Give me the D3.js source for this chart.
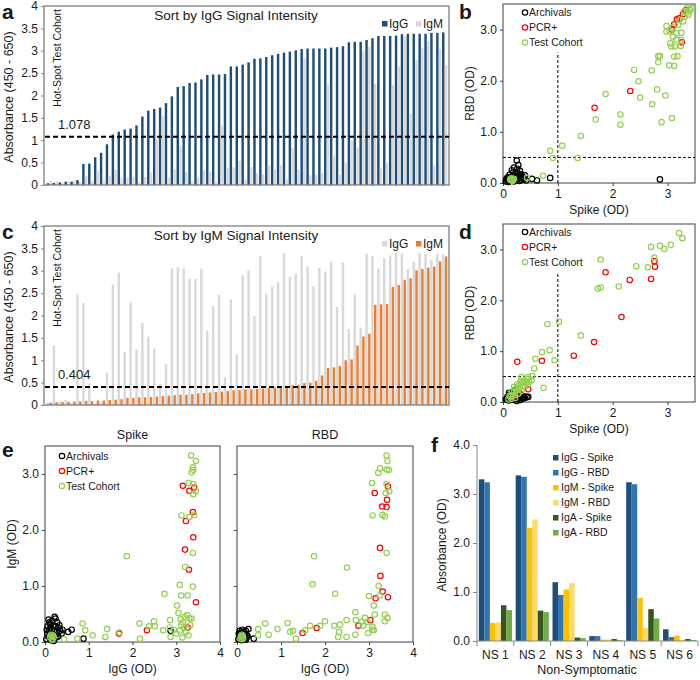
<!DOCTYPE html>
<html>
<head>
<meta charset="utf-8">
<script src="https://cdn.jsdelivr.net/npm/d3@7"></script>
<style>
  body { margin: 0; background: #fff; }
  text { font-family: Arial, "Liberation Sans", sans-serif; fill: #1a1a1a; }
</style>
</head>
<body>
<svg id="fig" width="700" height="680"></svg>
<script>
// ---- hot-spot test cohort (68 sera), listed by increasing IgM as in panel c
let cohortIgG = [0.06, 1.33, 0.075, 0.11, 0.05, 2.47, 2.28, 0.48, 0.04, 0.075,
  0.72, 2.69, 2.96, 1.19, 2.29, 1.24, 1.83, 1.53, 1.26, 0.47,
  0.91, 3.05, 3.08, 3.05, 2.83, 2.82, 3.05, 1.66, 2.21, 2.46,
  0.62, 2.36, 1.13, 2.90, 3.01, 1.98, 3.33, 2.48, 2.65, 2.74,
  3.40, 2.86, 2.93, 3.33, 3.10, 2.65, 3.07, 2.98, 3.20, 2.19,
  3.19, 1.70, 2.47, 1.73, 3.38, 3.33, 3.05, 3.28, 3.34, 3.41,
  3.38, 3.04, 3.20, 3.40, 3.38, 3.24, 3.38, 3.37];
let cohortIgM = [0.05, 0.06, 0.07, 0.07, 0.08, 0.08, 0.09, 0.09, 0.10, 0.10,
  0.11, 0.12, 0.13, 0.16, 0.16, 0.17, 0.17, 0.18, 0.19, 0.20,
  0.21, 0.22, 0.23, 0.23, 0.24, 0.26, 0.27, 0.28, 0.29, 0.30,
  0.31, 0.33, 0.34, 0.35, 0.35, 0.36, 0.37, 0.38, 0.39, 0.40,
  0.43, 0.44, 0.45, 0.49, 0.50, 0.54, 0.66, 0.83, 0.84, 0.87,
  1.00, 1.02, 1.33, 1.53, 1.59, 2.24, 2.25, 2.26, 2.64, 2.68,
  2.79, 2.83, 3.01, 3.04, 3.07, 3.09, 3.21, 3.32];
let cutoffIgG = 1.078;
let cutoffIgM = 0.404;
let barTicks = [0, 0.5, 1, 1.5, 2, 2.5, 3, 3.5, 4];

// ---- panel b: IgG, Spike vs RBD
let bArchivals = [[0.05,0.03],[0.08,0.06],[0.1,0.02],[0.12,0.08],[0.14,0.04],[0.15,0.12],[0.17,0.06],[0.18,0.15],
  [0.2,0.03],[0.21,0.09],[0.22,0.18],[0.23,0.05],[0.24,0.12],[0.25,0.44],[0.26,0.2],[0.27,0.08],[0.28,0.35],
  [0.29,0.14],[0.3,0.04],[0.31,0.24],[0.32,0.1],[0.33,0.17],[0.34,0.06],[0.36,0.12],[0.19,0.22],[0.16,0.25],
  [0.12,0.16],[0.09,0.11],[0.07,0.09],[0.38,0.08],[0.4,0.15],[0.42,0.05],[0.53,0.08],[0.62,0.05],[0.86,0.1],
  [2.86,0.07],[0.2,0.3],[0.26,0.28],[0.11,0.04],[0.06,0.07]];
let bPcr = [[1.67,1.47],[2.32,1.8],[3.26,2.75],[3.08,3.0],[3.12,3.1],[3.17,3.2],[3.21,3.22],[3.28,3.3],[3.33,3.38]];
let bCohort = [[0.14,0.06],[0.16,0.07],[0.18,0.05],[0.2,0.08],[0.15,0.09],[0.17,0.04],[0.19,0.07],[0.13,0.07],
  [0.44,0.1],[0.73,0.14],[0.86,0.63],[0.91,0.49],[1.08,0.73],[1.36,0.49],[1.42,0.92],[1.69,1.24],[1.87,1.74],
  [2.14,1.34],[2.14,1.14],[2.39,2.21],[2.47,1.99],[2.5,1.67],[2.71,2.2],[2.72,1.54],[2.81,1.83],[2.83,2.36],
  [2.83,2.48],[2.86,2.48],[2.89,1.19],[2.96,1.71],[3.03,2.3],[3.08,1.27],[3.12,2.29],[3.12,2.47],[3.18,2.48],
  [2.98,3.07],[2.98,2.96],[3.07,2.67],[3.13,2.67],[3.24,2.68],[3.1,2.86],[3.16,2.93],[3.25,2.94],[3.1,3.05],
  [3.19,3.09],[3.28,3.16],[3.31,3.25],[3.35,3.33],[3.41,3.38],[3.44,3.42],[3.38,3.29],[3.16,2.8],[3.25,2.8],
  [3.04,2.96],[3.22,3.19],[3.35,3.42],[3.05,2.73],[3.3,3.35],[3.4,3.4]];

// ---- panel d: IgM, Spike vs RBD
let dArchivals = [[0.05,0.05],[0.08,0.1],[0.1,0.03],[0.12,0.14],[0.14,0.07],[0.16,0.04],[0.18,0.12],[0.2,0.08],
  [0.21,0.23],[0.22,0.05],[0.24,0.1],[0.26,0.15],[0.28,0.06],[0.3,0.12],[0.32,0.04],[0.34,0.09],[0.36,0.07],
  [0.38,0.11],[0.4,0.08],[0.43,0.1],[0.46,0.1],[0.11,0.18],[0.07,0.06],[0.17,0.16],[0.25,0.02],[0.33,0.13]];
let dPcr = [[2.76,2.77],[2.77,2.66],[2.7,2.42],[2.31,2.4],[1.87,2.55],[2.16,1.67],[1.66,1.18],[1.29,0.91],
  [0.71,0.81],[0.26,0.79],[0.46,0.25],[0.2,0.12],[0.3,0.18]];
let dCohort = [[3.21,3.32],[3.27,3.22],[3.06,3.09],[2.94,3.01],[2.86,3.07],[2.7,3.05],[2.76,2.84],[2.64,2.65],
  [2.43,2.67],[2.11,2.27],[1.78,2.8],[1.73,2.23],[1.78,2.25],[1.42,1.31],[1.02,1.58],[0.81,1.53],[0.85,1.02],
  [0.71,0.98],[0.59,0.85],[0.94,0.82],[0.74,0.28],[0.57,0.66],[0.53,0.51],[0.46,0.49],[0.34,0.49],
  [0.1,0.05],[0.14,0.1],[0.16,0.2],[0.18,0.14],[0.2,0.3],[0.22,0.08],[0.24,0.22],[0.26,0.35],[0.28,0.16],
  [0.3,0.28],[0.32,0.4],[0.34,0.22],[0.36,0.32],[0.38,0.42],[0.4,0.3],[0.42,0.38],[0.44,0.45],[0.48,0.4],
  [0.52,0.43],[0.12,0.12],[0.2,0.2],[0.25,0.28],[0.3,0.35],[0.35,0.38],[0.15,0.06],[0.22,0.14],[0.28,0.24],[0.45,0.33]];

// ---- panel e: IgG vs IgM, Spike antigen
let eSpikeArchivals = [[0.03,0.05],[0.05,0.15],[0.06,0.28],[0.08,0.1],[0.1,0.2],[0.1,0.35],[0.12,0.05],[0.13,0.25],
  [0.15,0.15],[0.16,0.38],[0.18,0.08],[0.19,0.3],[0.2,0.2],[0.22,0.45],[0.23,0.12],[0.24,0.42],[0.25,0.28],
  [0.27,0.18],[0.28,0.35],[0.3,0.1],[0.31,0.25],[0.33,0.3],[0.35,0.2],[0.38,0.15],[0.4,0.22],[0.08,0.4],
  [0.14,0.03],[0.2,0.02],[0.04,0.22],[0.53,0.18],[0.61,0.22],[0.88,0.06],[2.87,0.2],[0.12,0.32],[0.26,0.08]];
let eSpikePcr = [[3.15,2.79],[3.3,2.7],[3.41,2.76],[3.38,2.32],[3.22,2.16],[3.39,1.87],[3.2,1.65],[3.29,1.29],
  [3.45,0.71],[1.69,0.15],[2.33,0.21],[3.26,0.26]];
let eSpikeCohort = [[3.34,3.33],[3.45,3.23],[3.38,3.12],[3.39,3.07],[3.35,3.03],[3.28,2.84],[3.39,2.82],[3.39,2.64],
  [3.45,2.69],[3.12,2.26],[3.3,2.23],[3.41,2.27],[3.38,1.59],[3.2,1.34],[1.87,1.53],[3.08,1.02],[3.38,0.99],
  [3.11,0.83],[3.26,0.83],[2.73,0.86],[3.02,0.65],[3.05,0.52],[3.1,0.4],[3.2,0.45],[3.25,0.48],[3.15,0.35],
  [3.3,0.42],[3.35,0.42],[3.12,0.3],[3.18,0.25],[3.22,0.18],[3.28,0.12],[3.08,0.2],[3.0,0.15],[3.14,0.08],
  [3.32,0.3],[2.95,0.22],[0.86,0.33],[0.92,0.21],[1.09,0.12],[1.42,0.23],[1.38,0.09],[1.7,0.17],[2.16,0.33],
  [2.17,0.06],[2.38,0.28],[2.49,0.37],[2.51,0.28],[2.7,0.21],[2.86,0.39],[2.85,0.26],[2.87,0.09],[0.44,0.05],
  [0.74,0.06],[0.12,0.08],[0.15,0.1],[0.17,0.06],[0.18,0.12],[0.2,0.09],[0.14,0.13],[0.16,0.04]];

// ---- panel e: IgG vs IgM, RBD antigen
let eRbdArchivals = [[0.03,0.05],[0.05,0.12],[0.06,0.2],[0.08,0.08],[0.1,0.15],[0.11,0.03],[0.12,0.22],[0.14,0.1],
  [0.15,0.18],[0.17,0.05],[0.18,0.13],[0.2,0.2],[0.22,0.08],[0.23,0.12],[0.26,0.23],[0.38,0.06],[0.09,0.17],
  [0.13,0.06],[0.07,0.1],[0.16,0.14],[0.2,0.04],[0.24,0.1],[0.04,0.15]];
let eRbdPcr = [[3.13,2.66],[3.43,2.78],[3.41,2.54],[3.3,2.42],[3.4,2.41],[3.25,1.68],[3.26,1.18],[3.31,0.9],
  [3.15,0.78],[3.43,0.8],[3.03,0.39],[2.76,0.29],[1.81,0.25],[1.49,0.16]];
let eRbdCohort = [[3.4,3.33],[3.42,3.23],[3.25,3.1],[3.21,3.02],[3.4,3.08],[3.45,3.07],[3.07,2.84],[3.4,2.82],
  [3.38,2.66],[3.46,2.69],[3.08,2.26],[3.31,2.27],[3.36,2.24],[3.4,1.59],[1.75,1.53],[2.5,1.33],[1.72,1.03],
  [2.23,0.86],[3.22,1.0],[3.0,0.82],[3.25,0.83],[3.11,0.65],[2.69,0.53],[3.13,0.49],[3.36,0.49],[3.42,0.43],
  [3.36,0.37],[2.91,0.43],[2.97,0.36],[2.83,0.36],[2.7,0.39],[2.87,0.29],[3.08,0.27],[3.08,0.22],[3.11,0.21],
  [2.98,0.16],[2.69,0.13],[2.49,0.39],[2.49,0.09],[2.34,0.31],[2.32,0.18],[2.3,0.09],[2.21,0.29],[2.0,0.37],
  [1.89,0.29],[1.66,0.29],[1.55,0.21],[1.34,0.06],[1.27,0.2],[1.21,0.18],[1.15,0.34],[0.92,0.23],[0.72,0.13],
  [0.64,0.33],[0.48,0.23],[0.48,0.12],[0.08,0.06],[0.1,0.09],[0.12,0.05],[0.13,0.11],[0.11,0.13],[0.09,0.1],[0.14,0.07]];

// ---- panel f: non-symptomatic donors
let nsDonors = ["NS 1", "NS 2", "NS 3", "NS 4", "NS 5", "NS 6"];
let nsSeries = ["IgG - Spike", "IgG - RBD", "IgM - Spike", "IgM - RBD", "IgA - Spike", "IgA - RBD"];
let igGSpike = [3.30, 3.38, 1.20, 0.10, 3.24, 0.24];
let igGRbd = [3.24, 3.35, 0.94, 0.10, 3.20, 0.08];
let igMSpike = [0.37, 2.31, 1.05, 0.03, 0.88, 0.11];
let igMRbd = [0.38, 2.48, 1.18, 0.03, 0.27, 0.02];
let igASpike = [0.73, 0.62, 0.07, 0.04, 0.65, 0.04];
let igARbd = [0.63, 0.59, 0.06, 0.02, 0.46, 0.02];

let navy = "#1f4e79", grey = "#d9d9d9", orange = "#ed7d31";
let groupColors = { Archivals: "#000000", "PCR+": "#ff0000", "Test Cohort": "#92d050" };
let nsColors = ["#1f4e79", "#2e75b6", "#ffc000", "#ffd966", "#375623", "#70ad47"];

let svg = d3.select("#fig");

function letter(x, y, t) {
  svg.append("text").attr("x", x).attr("y", y)
    .attr("font-size", 21).attr("font-weight", "bold").text(t);
}

function styleAxis(g, color) {
  g.select(".domain").remove();
  g.selectAll(".tick line").attr("stroke", color);
  g.selectAll(".tick text").attr("font-size", 12).attr("fill", "#1a1a1a")
    .attr("font-family", "Arial, 'Liberation Sans', sans-serif");
}

// sorted IgG / IgM bar chart (panels a and c)
function barPanel(top, sortKey, title, colors, cutoff) {
  let rows = cohortIgG.map((v, i) => ({ IgG: v, IgM: cohortIgM[i] }));
  rows = rows.map((r, i) => ({ ...r, i })).sort((p, q) => p[sortKey] - q[sortKey] || p.i - q.i);

  let x = d3.scaleBand().domain(d3.range(rows.length)).range([45, 449])
    .paddingInner(0.12).paddingOuter(0.3);
  let sub = d3.scaleBand().domain(["IgG", "IgM"]).range([0, x.bandwidth()]).paddingInner(0.12);
  let y = d3.scaleLinear().domain([0, 4]).range([top + 179, top]);
  let g = svg.append("g");

  ["IgG", "IgM"].forEach(k => {
    g.append("g").selectAll("rect").data(rows).join("rect")
      .attr("x", (d, i) => x(i) + sub(k))
      .attr("width", sub.bandwidth())
      .attr("y", d => y(d[k]))
      .attr("height", d => y(0) - y(d[k]))
      .attr("fill", colors[k]);
  });

  let ay = g.append("g").attr("transform", "translate(44,0)")
    .call(d3.axisLeft(y).tickValues(barTicks).tickSize(3).tickPadding(3).tickFormat(d3.format("~g")));
  styleAxis(ay, "#888");

  g.append("rect").attr("x", 44).attr("y", top).attr("width", 405).attr("height", 179)
    .attr("fill", "none").attr("stroke", "#7f7f7f").attr("stroke-width", 1.3);

  g.append("line").attr("x1", 45).attr("x2", 449).attr("y1", y(cutoff)).attr("y2", y(cutoff))
    .attr("stroke", "#000").attr("stroke-width", 2).attr("stroke-dasharray", "5,3");
  g.append("text").attr("x", 58).attr("y", y(cutoff) - 8).attr("font-size", 13).text(cutoff);

  g.append("text").attr("x", 236).attr("y", top + 14).attr("text-anchor", "middle")
    .attr("font-size", 13.5).text(title);

  g.append("text").attr("transform", `translate(61,${top + 3}) rotate(-90)`)
    .attr("text-anchor", "end").attr("font-size", 10.5).text("Hot-Spot Test Cohort");

  g.append("text").attr("transform", `translate(13,${top + 91}) rotate(-90)`)
    .attr("text-anchor", "middle").attr("font-size", 12.5).text("Absorbance (450 - 650)");

  let lg = g.append("g");
  [["IgG", 382], ["IgM", 416]].forEach(([k, lx]) => {
    lg.append("rect").attr("x", lx).attr("y", top + 15).attr("width", 5.5).attr("height", 5.5).attr("fill", colors[k]);
    lg.append("text").attr("x", lx + 7).attr("y", top + 22).attr("font-size", 12).text(k);
  });
}

// scatter with open circles (panels b, d, e)
function scatterPanel(o) {
  let x = d3.scaleLinear().domain([0, o.xMax]).range([o.left, o.right]);
  let y = d3.scaleLinear().domain([0, 3.5]).range([o.bottom, o.top]);
  let g = svg.append("g");

  let ax = g.append("g").attr("transform", `translate(0,${o.bottom})`)
    .call(d3.axisBottom(x).tickValues(d3.range(0, o.xMax + 0.01, 1)).tickSize(3).tickPadding(3).tickFormat(d3.format("d")));
  styleAxis(ax, "#444");
  let ay = g.append("g").attr("transform", `translate(${o.left},0)`)
    .call(d3.axisLeft(y).tickValues([0, 1, 2, 3]).tickSize(3).tickPadding(3)
      .tickFormat(o.yLabels ? d3.format(".1f") : () => ""));
  styleAxis(ay, "#444");

  g.append("rect").attr("x", o.left).attr("y", o.top)
    .attr("width", o.right - o.left).attr("height", o.bottom - o.top)
    .attr("fill", "none").attr("stroke", "#404040").attr("stroke-width", 1);

  if (o.guides) {
    g.append("line").attr("x1", x(1)).attr("x2", x(1)).attr("y1", y(0)).attr("y2", y(2.55))
      .attr("stroke", "#000").attr("stroke-dasharray", "3,2");
    g.append("line").attr("x1", x(0)).attr("x2", x(o.xMax)).attr("y1", y(0.5)).attr("y2", y(0.5))
      .attr("stroke", "#000").attr("stroke-dasharray", "3,2");
  }

  o.groups.forEach(([name, pts]) => {
    g.append("g").selectAll("circle").data(pts).join("circle")
      .attr("cx", d => x(d[0])).attr("cy", d => y(d[1])).attr("r", 2.7)
      .attr("fill", "none").attr("stroke", groupColors[name]).attr("stroke-width", 1.2);
  });

  if (o.title) {
    g.append("text").attr("x", (o.left + o.right) / 2).attr("y", o.top - 7)
      .attr("text-anchor", "middle").attr("font-size", 12.5).text(o.title);
  }
  g.append("text").attr("x", (o.left + o.right) / 2).attr("y", o.bottom + 31)
    .attr("text-anchor", "middle").attr("font-size", 12).text(o.xLabel);
  if (o.yLabel) {
    g.append("text").attr("transform", `translate(${o.left - 29},${(o.top + o.bottom) / 2}) rotate(-90)`)
      .attr("text-anchor", "middle").attr("font-size", 12).text(o.yLabel);
  }
  if (o.legend) {
    Object.keys(groupColors).forEach((name, k) => {
      let ly = o.legend[1] + k * 15;
      g.append("circle").attr("cx", o.legend[0]).attr("cy", ly).attr("r", 2.7)
        .attr("fill", "none").attr("stroke", groupColors[name]).attr("stroke-width", 1.2);
      g.append("text").attr("x", o.legend[0] + 4).attr("y", ly + 3.8).attr("font-size", 10.5).text(name);
    });
  }
}

// ---- a / c
letter(2, 19, "a");
barPanel(6, "IgG", "Sort by IgG Signal Intensity", { IgG: navy, IgM: grey }, cutoffIgG);
letter(2, 239, "c");
barPanel(226, "IgM", "Sort by IgM Signal Intensity", { IgG: grey, IgM: orange }, cutoffIgM);

// ---- b / d
letter(459, 19, "b");
scatterPanel({ left: 503, right: 695, top: 4, bottom: 183, xMax: 3.5, yLabels: true, guides: true,
  xLabel: "Spike (OD)", yLabel: "RBD (OD)", legend: [525, 12.5],
  groups: [["Archivals", bArchivals], ["PCR+", bPcr], ["Test Cohort", bCohort]] });
letter(459, 239, "d");
scatterPanel({ left: 503, right: 695, top: 224, bottom: 402, xMax: 3.5, yLabels: true, guides: true,
  xLabel: "Spike (OD)", yLabel: "RBD (OD)", legend: [525, 232],
  groups: [["Archivals", dArchivals], ["PCR+", dPcr], ["Test Cohort", dCohort]] });

// ---- e
letter(2, 457, "e");
scatterPanel({ left: 45, right: 220, top: 446, bottom: 642, xMax: 4, yLabels: true, title: "Spike",
  xLabel: "IgG (OD)", yLabel: "IgM (OD)", legend: [62, 456],
  groups: [["Archivals", eSpikeArchivals], ["PCR+", eSpikePcr], ["Test Cohort", eSpikeCohort]] });
scatterPanel({ left: 237, right: 413, top: 446, bottom: 642, xMax: 4, yLabels: false, title: "RBD",
  xLabel: "IgG (OD)",
  groups: [["Archivals", eRbdArchivals], ["PCR+", eRbdPcr], ["Test Cohort", eRbdCohort]] });

// ---- f
letter(431, 452, "f");
(function () {
  let table = [igGSpike, igGRbd, igMSpike, igMRbd, igASpike, igARbd];
  let fx = d3.scaleBand().domain(nsDonors).range([477, 698]).paddingInner(0.1).paddingOuter(0.05);
  let fs = d3.scaleBand().domain(nsSeries).range([0, fx.bandwidth()]);
  let fy = d3.scaleLinear().domain([0, 4]).range([641, 445]);
  let g = svg.append("g");

  nsSeries.forEach((s, k) => {
    g.append("g").selectAll("rect").data(table[k]).join("rect")
      .attr("x", (d, i) => fx(nsDonors[i]) + fs(s))
      .attr("width", fs.bandwidth())
      .attr("y", d => fy(d)).attr("height", d => fy(0) - fy(d))
      .attr("fill", nsColors[k]);
  });

  let ay = g.append("g").attr("transform", "translate(477,0)")
    .call(d3.axisLeft(fy).tickValues([0, 1, 2, 3, 4]).tickSize(4).tickPadding(3).tickFormat(d3.format(".1f")));
  styleAxis(ay, "#888");
  g.append("line").attr("x1", 477).attr("x2", 477).attr("y1", 445).attr("y2", 641).attr("stroke", "#888");

  let ax = g.append("g").attr("transform", "translate(0,641)")
    .call(d3.axisBottom(fx).tickSize(0).tickPadding(9));
  styleAxis(ax, "#888");
  g.append("line").attr("x1", 477).attr("x2", 698).attr("y1", 641).attr("y2", 641).attr("stroke", "#888");
  let edges = nsDonors.map(d => fx(d) - fx.step() * fx.paddingInner() / 2).concat([698]);
  edges[0] = 477;
  g.append("g").selectAll("line").data(edges).join("line")
    .attr("x1", d => d).attr("x2", d => d).attr("y1", 641).attr("y2", 646).attr("stroke", "#888");

  g.append("text").attr("x", 587).attr("y", 674).attr("text-anchor", "middle")
    .attr("font-size", 12.5).text("Non-Symptomatic");
  g.append("text").attr("transform", "translate(446,545) rotate(-90)")
    .attr("text-anchor", "middle").attr("font-size", 12).text("Absorbance (OD)");

  nsSeries.forEach((s, k) => {
    let ly = 455 + k * 15;
    g.append("rect").attr("x", 553).attr("y", ly).attr("width", 5.5).attr("height", 5.5).attr("fill", nsColors[k]);
    g.append("text").attr("x", 561).attr("y", ly + 5.5).attr("font-size", 10.5).text(s);
  });
})();
</script>
</body>
</html>
